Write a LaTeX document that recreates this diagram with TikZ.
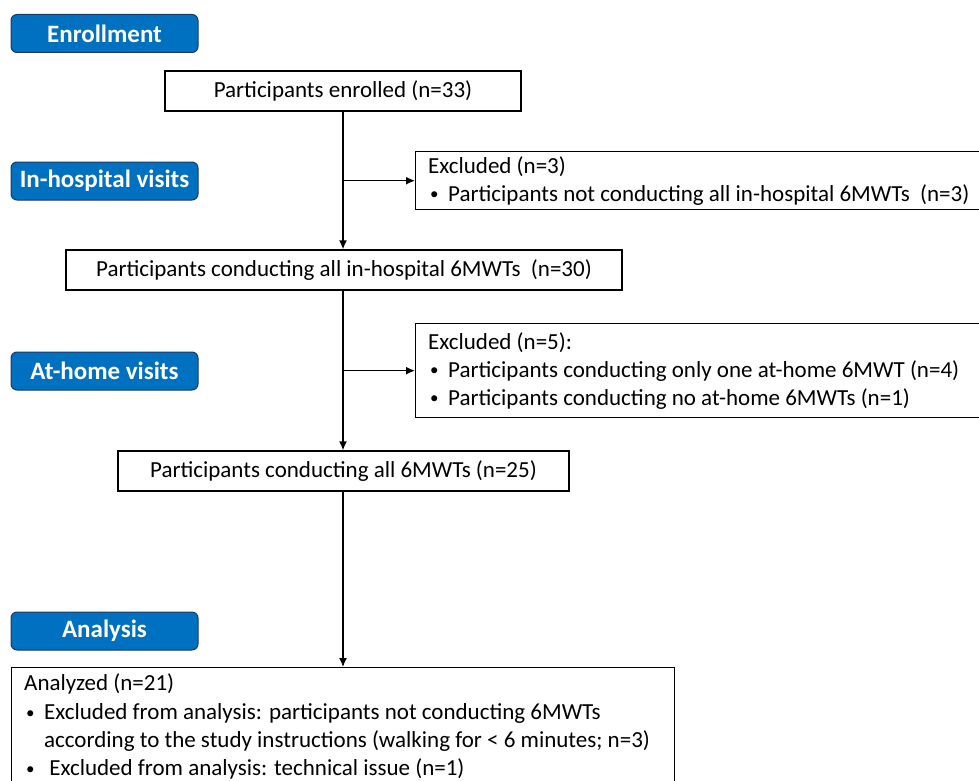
\documentclass[tikz,border=0pt]{standalone}
\usepackage{fontspec}
\setmainfont{Carlito}
\usepackage{tikz}
\usetikzlibrary{positioning}
\usetikzlibrary{arrows.meta}
\definecolor{stageblue}{RGB}{0,112,192}
\definecolor{stageedge}{RGB}{31,56,100}
\tikzset{stage/.style ={draw=stageedge, fill=stageblue, rounded corners=6pt, line width=1pt, minimum width=187pt, minimum height=38pt, inner xsep=2pt, text=white, font=\fontsize{25}{28}\selectfont\bfseries}}
\tikzset{flowbox/.style ={draw, line width=1.4pt, minimum height=40pt, font=\fontsize{23}{28}\selectfont}}
\tikzset{infobox/.style ={draw, line width=1.4pt, anchor=north west, align=flush left, inner xsep=12.5pt, font=\fontsize{23}{28}\selectfont}}
\tikzset{flow/.style ={line width=1.4pt, -{Latex[length=9pt,width=8pt]}}}
\newcommand{\bull}{\hspace*{2pt}\makebox[18pt][l]{\raisebox{1.5pt}{\fontsize{17}{17}\selectfont\textbullet}}}
\newcommand{\bullgap}{\hspace*{2pt}\makebox[18pt][l]{}}

\begin{document}
\begin{tikzpicture}[x=1pt,y=-1pt]
\useasboundingbox (0,0) rectangle (979,781);
% stages
\node [stage] (enroll) at (104.5,33.5) {Enrollment};
\node [stage] (inhosp) at (104.5,181) {In-hospital visits};
\node [stage] (athome) at (104.5,371) {At-home visits};
\node [stage] (analysis) at (104.5,631) {Analysis};
% flow boxes
\node [flowbox, minimum width=356pt] (enrolled) at (343,91) {Participants enrolled (n=33)};
\node [flowbox, minimum width=556pt] (hospall) at (344,270) {Participants conducting all in-hospital 6MWTs\ \ (n=30)};
\node [flowbox, minimum width=451pt] (allmwt) at (343.5,471) {Participants conducting all 6MWTs (n=25)};
\node [infobox, text width=560pt, minimum height=58pt] (exclone) at (415,151)
  {Excluded (n=3)\\ \bull Participants not conducting all in-hospital 6MWTs\ \ (n=3)};
\node [infobox, text width=560pt, minimum height=94pt] (excltwo) at (415,323)
  {Excluded (n=5):\\ \bull Participants conducting only one at-home 6MWT (n=4)\\ \bull Participants conducting no at-home 6MWTs (n=1)};
\node [infobox, text width=638pt, inner ysep=6pt] (analyzed) at (11,667)
  {Analyzed (n=21)\\[1pt] \bull\mbox{Excluded from analysis: participants not conducting 6MWTs}\\ \bullgap\mbox{according to the study instructions (walking for < 6 minutes; n=3)}\\ \bull\ Excluded from analysis: technical issue (n=1)\\[10pt]};
% connectors
\draw [flow] (enrolled.south) -- (enrolled.south |- hospall.north);
\draw [flow] (enrolled.south |- exclone.west) -- (exclone.west);
\draw [flow] (hospall.south -| enrolled.south) -- (enrolled.south |- allmwt.north);
\draw [flow] (enrolled.south |- excltwo.west) -- (excltwo.west);
\draw [flow] (allmwt.south -| enrolled.south) -- (enrolled.south |- analyzed.north);
\end{tikzpicture}
\end{document}
